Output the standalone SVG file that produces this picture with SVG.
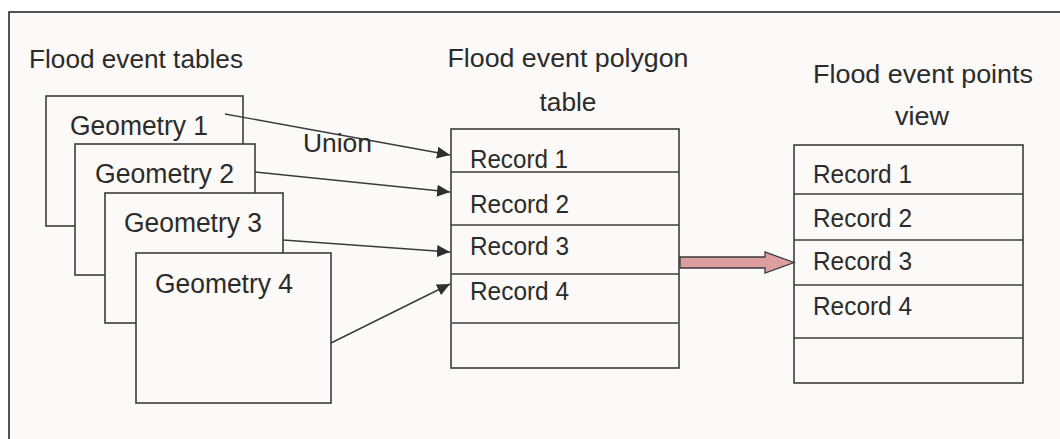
<svg xmlns="http://www.w3.org/2000/svg" width="1060" height="439" viewBox="0 0 1060 439">
<defs>
<style>
.t{font-family:"Liberation Sans",Arial,sans-serif;fill:#2b2b2b}
.box{fill:#fbfaf9;stroke:#3c3c3c;stroke-width:1.6}
.div{stroke:#3c3c3c;stroke-width:1.6}
.con{stroke:#3a3a3a;stroke-width:1.4;fill:none}
</style>
<marker id="ah" markerUnits="userSpaceOnUse" markerWidth="14" markerHeight="12" refX="13" refY="6" orient="auto">
<path d="M0,0 L13,6 L0,12 Z" fill="#2f2f2f"/>
</marker>
</defs>
<rect x="0" y="0" width="1060" height="439" fill="#ffffff"/>
<rect id="frame" x="9" y="12" width="1070" height="440" fill="#fbfaf9" stroke="#2a2a2a" stroke-width="1.6"/>

<text class="t" x="29" y="68" font-size="26" textLength="214" lengthAdjust="spacingAndGlyphs">Flood event tables</text>
<text class="t" x="568" y="67" font-size="26" text-anchor="middle" textLength="241" lengthAdjust="spacingAndGlyphs">Flood event polygon</text>
<text class="t" x="568" y="111" font-size="26" text-anchor="middle" textLength="57" lengthAdjust="spacingAndGlyphs">table</text>
<text class="t" x="923" y="83" font-size="26" text-anchor="middle" textLength="220" lengthAdjust="spacingAndGlyphs">Flood event points</text>
<text class="t" x="922" y="125" font-size="26" text-anchor="middle" textLength="54" lengthAdjust="spacingAndGlyphs">view</text>

<g id="geometry1">
<rect class="box" x="46" y="96" width="197" height="130"/>
<text class="t" x="70" y="135" font-size="27" textLength="138" lengthAdjust="spacingAndGlyphs">Geometry 1</text>
</g>
<g id="geometry2">
<rect class="box" x="75" y="144" width="180" height="131"/>
<text class="t" x="95" y="183" font-size="27" textLength="139" lengthAdjust="spacingAndGlyphs">Geometry 2</text>
</g>
<g id="geometry3">
<rect class="box" x="105" y="193" width="178" height="130"/>
<text class="t" x="124" y="232" font-size="27" textLength="138" lengthAdjust="spacingAndGlyphs">Geometry 3</text>
</g>
<g id="geometry4">
<rect class="box" x="136" y="253" width="195" height="150"/>
<text class="t" x="155" y="293" font-size="27" textLength="138" lengthAdjust="spacingAndGlyphs">Geometry 4</text>
</g>

<g id="polygon-table">
<rect class="box" x="451" y="129" width="228" height="239"/>
<line class="div" x1="451" y1="172" x2="679" y2="172"/>
<line class="div" x1="451" y1="225" x2="679" y2="225"/>
<line class="div" x1="451" y1="274" x2="679" y2="274"/>
<line x1="451" y1="323" x2="679" y2="323" stroke="#6e6e6e" stroke-width="1.8"/>
<text class="t" x="470" y="168" font-size="25" textLength="98" lengthAdjust="spacingAndGlyphs">Record 1</text>
<text class="t" x="470" y="213" font-size="25" textLength="99" lengthAdjust="spacingAndGlyphs">Record 2</text>
<text class="t" x="470" y="255" font-size="25" textLength="99" lengthAdjust="spacingAndGlyphs">Record 3</text>
<text class="t" x="470" y="300" font-size="25" textLength="99" lengthAdjust="spacingAndGlyphs">Record 4</text>
</g>

<g id="points-view">
<rect class="box" x="794" y="145" width="229" height="238"/>
<line class="div" x1="794" y1="194" x2="1023" y2="194"/>
<line class="div" x1="794" y1="240" x2="1023" y2="240"/>
<line class="div" x1="794" y1="285" x2="1023" y2="285"/>
<line class="div" x1="794" y1="338" x2="1023" y2="338"/>
<text class="t" x="813" y="183" font-size="25" textLength="99" lengthAdjust="spacingAndGlyphs">Record 1</text>
<text class="t" x="813" y="227" font-size="25" textLength="99" lengthAdjust="spacingAndGlyphs">Record 2</text>
<text class="t" x="813" y="270" font-size="25" textLength="99" lengthAdjust="spacingAndGlyphs">Record 3</text>
<text class="t" x="813" y="315" font-size="25" textLength="99" lengthAdjust="spacingAndGlyphs">Record 4</text>
</g>

<g id="connectors">
<line class="con" x1="225" y1="114" x2="450" y2="155" marker-end="url(#ah)"/>
<line class="con" x1="255" y1="172" x2="450" y2="192" marker-end="url(#ah)"/>
<line class="con" x1="283" y1="240" x2="450" y2="252" marker-end="url(#ah)"/>
<line class="con" x1="331" y1="343" x2="450" y2="284" marker-end="url(#ah)"/>
<path d="M680,257 L765,257 L765,252 L794,262.5 L765,273 L765,268 L680,268 Z" fill="#dc9e9e" stroke="#3a3a3a" stroke-width="1.3" stroke-linejoin="miter"/>
<text class="t" x="303" y="152" font-size="25" textLength="69" lengthAdjust="spacingAndGlyphs">Union</text>
</g>
</svg>
